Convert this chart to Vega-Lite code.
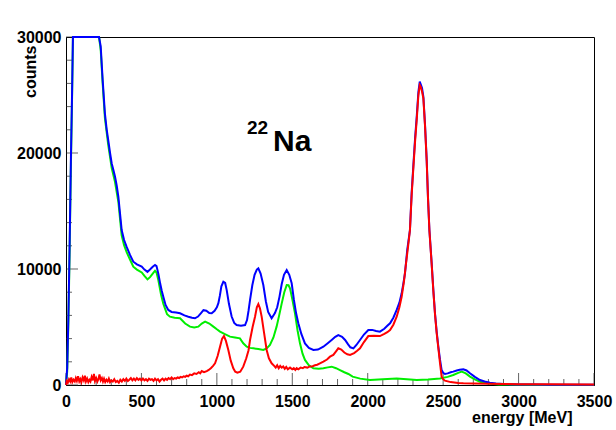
{
  "$schema": "https://vega.github.io/schema/vega-lite/v6.json",
  "autosize": {"type": "none"},
  "width": 528,
  "height": 348,
  "padding": {"left": 66, "top": 37, "right": 22, "bottom": 45},
  "background": "white",
  "config": {
    "font": "Liberation Sans",
    "view": {"stroke": "#000000", "strokeWidth": 1},
    "axis": {"grid": false, "domainColor": "#000000", "labelColor": "#000000", "titleColor": "#000000", "labelFont": "Liberation Sans", "labelFontWeight": "bold", "labelFontSize": 16, "titleFont": "Liberation Sans", "titleFontWeight": "bold", "titleFontSize": 16, "labelFlush": false, "labelOverlap": false}
  },
  "datasets": {
    "green": [
      {"e":0,"c":0},{"e":8,"c":1200},{"e":16,"c":5500},{"e":24,"c":11500},{"e":32,"c":18500},{"e":40,"c":24600},{"e":46,"c":30000},{"e":219,"c":30000},{"e":230,"c":28900},{"e":243,"c":26000},{"e":258,"c":23000},{"e":280,"c":20700},{"e":303,"c":18700},{"e":325,"c":17500},{"e":347,"c":15800},{"e":369,"c":12900},{"e":385,"c":12050},{"e":402,"c":11450},{"e":425,"c":10800},{"e":446,"c":10200},{"e":470,"c":9950},{"e":502,"c":9700},{"e":520,"c":9400},{"e":540,"c":9100},{"e":557,"c":9300},{"e":575,"c":9600},{"e":590,"c":9850},{"e":600,"c":9700},{"e":612,"c":9050},{"e":630,"c":7800},{"e":645,"c":7000},{"e":656,"c":6610},{"e":670,"c":6100},{"e":689,"c":5890},{"e":720,"c":5800},{"e":756,"c":5750},{"e":790,"c":5300},{"e":822,"c":5030},{"e":850,"c":4950},{"e":877,"c":5030},{"e":900,"c":5300},{"e":922,"c":5460},{"e":950,"c":5300},{"e":977,"c":5030},{"e":1000,"c":4800},{"e":1021,"c":4600},{"e":1050,"c":4400},{"e":1087,"c":4170},{"e":1120,"c":4100},{"e":1153,"c":4020},{"e":1175,"c":3600},{"e":1198,"c":3300},{"e":1220,"c":3200},{"e":1242,"c":3160},{"e":1275,"c":3100},{"e":1308,"c":3020},{"e":1330,"c":3150},{"e":1352,"c":3450},{"e":1375,"c":4100},{"e":1396,"c":5030},{"e":1413,"c":6000},{"e":1430,"c":7040},{"e":1447,"c":8000},{"e":1463,"c":8620},{"e":1475,"c":8600},{"e":1485,"c":8340},{"e":1500,"c":7400},{"e":1518,"c":6180},{"e":1535,"c":4700},{"e":1551,"c":3590},{"e":1568,"c":2700},{"e":1584,"c":2160},{"e":1610,"c":1700},{"e":1640,"c":1440},{"e":1675,"c":1400},{"e":1706,"c":1440},{"e":1735,"c":1520},{"e":1761,"c":1580},{"e":1790,"c":1450},{"e":1816,"c":1290},{"e":1845,"c":1100},{"e":1872,"c":950},{"e":1900,"c":720},{"e":1950,"c":550},{"e":2015,"c":430},{"e":2100,"c":500},{"e":2192,"c":570},{"e":2260,"c":500},{"e":2325,"c":430},{"e":2400,"c":480},{"e":2479,"c":570},{"e":2530,"c":700},{"e":2567,"c":860},{"e":2600,"c":1050},{"e":2623,"c":1150},{"e":2650,"c":1000},{"e":2678,"c":720},{"e":2710,"c":480},{"e":2744,"c":280},{"e":2800,"c":120},{"e":2870,"c":50},{"e":3000,"c":20},{"e":3200,"c":10},{"e":3500,"c":5}
    ],
    "blue": [
      {"e":0,"c":0},{"e":8,"c":1500},{"e":16,"c":6000},{"e":24,"c":12000},{"e":32,"c":19000},{"e":40,"c":25000},{"e":46,"c":30000},{"e":219,"c":30000},{"e":230,"c":29200},{"e":243,"c":26300},{"e":258,"c":23400},{"e":270,"c":22000},{"e":280,"c":21100},{"e":292,"c":20000},{"e":303,"c":19100},{"e":315,"c":18500},{"e":325,"c":17960},{"e":336,"c":17200},{"e":347,"c":16230},{"e":358,"c":14800},{"e":369,"c":13360},{"e":385,"c":12500},{"e":402,"c":11900},{"e":425,"c":11200},{"e":446,"c":10630},{"e":470,"c":10400},{"e":502,"c":10200},{"e":520,"c":9950},{"e":540,"c":9750},{"e":560,"c":10000},{"e":575,"c":10200},{"e":590,"c":10350},{"e":600,"c":10250},{"e":612,"c":9600},{"e":625,"c":8700},{"e":635,"c":8100},{"e":645,"c":7600},{"e":660,"c":6900},{"e":678,"c":6470},{"e":700,"c":6300},{"e":730,"c":6250},{"e":756,"c":6180},{"e":785,"c":6000},{"e":811,"c":5890},{"e":835,"c":5800},{"e":855,"c":5750},{"e":875,"c":5900},{"e":895,"c":6200},{"e":911,"c":6450},{"e":930,"c":6400},{"e":950,"c":6200},{"e":966,"c":6180},{"e":985,"c":6400},{"e":1000,"c":6700},{"e":1010,"c":7050},{"e":1020,"c":7700},{"e":1030,"c":8500},{"e":1043,"c":8900},{"e":1055,"c":8800},{"e":1065,"c":8200},{"e":1080,"c":7000},{"e":1098,"c":5900},{"e":1115,"c":5350},{"e":1131,"c":5170},{"e":1160,"c":5100},{"e":1187,"c":5170},{"e":1200,"c":5600},{"e":1210,"c":6400},{"e":1220,"c":7330},{"e":1235,"c":8600},{"e":1250,"c":9500},{"e":1265,"c":9950},{"e":1275,"c":10060},{"e":1290,"c":9600},{"e":1308,"c":8620},{"e":1325,"c":7200},{"e":1340,"c":6300},{"e":1363,"c":5750},{"e":1385,"c":6200},{"e":1400,"c":6700},{"e":1415,"c":7600},{"e":1430,"c":8700},{"e":1445,"c":9500},{"e":1463,"c":9910},{"e":1480,"c":9500},{"e":1496,"c":8770},{"e":1510,"c":7400},{"e":1525,"c":6200},{"e":1540,"c":5320},{"e":1560,"c":4400},{"e":1584,"c":3590},{"e":1610,"c":3200},{"e":1640,"c":3020},{"e":1670,"c":3050},{"e":1706,"c":3300},{"e":1735,"c":3600},{"e":1761,"c":3880},{"e":1785,"c":4150},{"e":1805,"c":4300},{"e":1830,"c":4150},{"e":1850,"c":3880},{"e":1870,"c":3500},{"e":1885,"c":3250},{"e":1905,"c":3160},{"e":1925,"c":3450},{"e":1949,"c":3880},{"e":1975,"c":4350},{"e":2004,"c":4740},{"e":2030,"c":4750},{"e":2055,"c":4650},{"e":2081,"c":4600},{"e":2110,"c":4850},{"e":2130,"c":5100},{"e":2148,"c":5320},{"e":2170,"c":5800},{"e":2192,"c":6470},{"e":2210,"c":7100},{"e":2225,"c":7900},{"e":2237,"c":8800},{"e":2247,"c":9630},{"e":2262,"c":11640},{"e":2280,"c":13360},{"e":2291,"c":16500},{"e":2302,"c":18820},{"e":2314,"c":21270},{"e":2325,"c":23130},{"e":2336,"c":25280},{"e":2345,"c":26150},{"e":2352,"c":25900},{"e":2360,"c":25600},{"e":2369,"c":24850},{"e":2380,"c":22410},{"e":2391,"c":19400},{"e":2400,"c":16000},{"e":2409,"c":13360},{"e":2424,"c":10490},{"e":2435,"c":8200},{"e":2446,"c":6180},{"e":2457,"c":4600},{"e":2468,"c":3300},{"e":2479,"c":2200},{"e":2490,"c":1290},{"e":2500,"c":1050},{"e":2512,"c":950},{"e":2530,"c":1000},{"e":2550,"c":1100},{"e":2567,"c":1150},{"e":2590,"c":1250},{"e":2610,"c":1320},{"e":2634,"c":1350},{"e":2655,"c":1250},{"e":2678,"c":1010},{"e":2710,"c":700},{"e":2744,"c":430},{"e":2775,"c":300},{"e":2810,"c":200},{"e":2850,"c":130},{"e":2900,"c":80},{"e":3000,"c":50},{"e":3100,"c":40},{"e":3200,"c":30},{"e":3300,"c":30},{"e":3400,"c":25},{"e":3500,"c":20}
    ],
    "red": [
      {"e":0,"c":0},{"e":5,"c":350},{"e":12,"c":200},{"e":20,"c":500},{"e":28,"c":300},{"e":35,"c":650},{"e":42,"c":250},{"e":50,"c":450},{"e":58,"c":300},{"e":65,"c":600},{"e":72,"c":350},{"e":80,"c":750},{"e":88,"c":300},{"e":95,"c":500},{"e":102,"c":250},{"e":110,"c":650},{"e":118,"c":400},{"e":125,"c":800},{"e":132,"c":300},{"e":140,"c":550},{"e":148,"c":250},{"e":155,"c":450},{"e":162,"c":300},{"e":170,"c":700},{"e":178,"c":400},{"e":185,"c":950},{"e":192,"c":350},{"e":200,"c":600},{"e":208,"c":300},{"e":215,"c":500},{"e":222,"c":900},{"e":230,"c":400},{"e":238,"c":600},{"e":245,"c":300},{"e":252,"c":550},{"e":260,"c":250},{"e":268,"c":450},{"e":276,"c":300},{"e":284,"c":550},{"e":292,"c":250},{"e":300,"c":400},{"e":310,"c":300},{"e":320,"c":500},{"e":330,"c":250},{"e":340,"c":350},{"e":350,"c":200},{"e":360,"c":450},{"e":370,"c":300},{"e":380,"c":500},{"e":390,"c":350},{"e":400,"c":550},{"e":410,"c":350},{"e":420,"c":450},{"e":430,"c":600},{"e":440,"c":400},{"e":450,"c":550},{"e":460,"c":400},{"e":470,"c":600},{"e":480,"c":450},{"e":490,"c":550},{"e":500,"c":400},{"e":510,"c":550},{"e":520,"c":400},{"e":530,"c":500},{"e":540,"c":350},{"e":550,"c":550},{"e":560,"c":450},{"e":570,"c":500},{"e":580,"c":350},{"e":590,"c":550},{"e":600,"c":400},{"e":610,"c":500},{"e":620,"c":300},{"e":630,"c":450},{"e":640,"c":550},{"e":650,"c":400},{"e":660,"c":550},{"e":670,"c":450},{"e":680,"c":600},{"e":690,"c":500},{"e":700,"c":650},{"e":710,"c":500},{"e":720,"c":600},{"e":730,"c":550},{"e":740,"c":650},{"e":750,"c":600},{"e":760,"c":700},{"e":770,"c":650},{"e":780,"c":750},{"e":790,"c":700},{"e":800,"c":800},{"e":810,"c":750},{"e":822,"c":900},{"e":835,"c":850},{"e":850,"c":1000},{"e":865,"c":950},{"e":880,"c":1100},{"e":890,"c":1000},{"e":900,"c":1200},{"e":915,"c":1100},{"e":933,"c":1200},{"e":946,"c":1300},{"e":960,"c":1450},{"e":975,"c":1650},{"e":988,"c":1870},{"e":1005,"c":2500},{"e":1021,"c":3300},{"e":1035,"c":4000},{"e":1047,"c":4220},{"e":1060,"c":3800},{"e":1076,"c":3020},{"e":1092,"c":2100},{"e":1109,"c":1440},{"e":1122,"c":1150},{"e":1136,"c":1060},{"e":1155,"c":1150},{"e":1175,"c":1580},{"e":1195,"c":2300},{"e":1210,"c":3000},{"e":1220,"c":3880},{"e":1237,"c":5000},{"e":1253,"c":5890},{"e":1265,"c":6700},{"e":1275,"c":6980},{"e":1286,"c":6600},{"e":1297,"c":5890},{"e":1313,"c":4500},{"e":1330,"c":3020},{"e":1345,"c":2300},{"e":1363,"c":1870},{"e":1380,"c":1650},{"e":1390,"c":1500},{"e":1400,"c":1700},{"e":1410,"c":1450},{"e":1420,"c":1650},{"e":1430,"c":1500},{"e":1440,"c":1600},{"e":1450,"c":1400},{"e":1460,"c":1550},{"e":1470,"c":1350},{"e":1485,"c":1500},{"e":1500,"c":1350},{"e":1510,"c":1450},{"e":1520,"c":1300},{"e":1529,"c":1450},{"e":1540,"c":1350},{"e":1555,"c":1500},{"e":1570,"c":1450},{"e":1580,"c":1550},{"e":1600,"c":1500},{"e":1617,"c":1600},{"e":1635,"c":1620},{"e":1650,"c":1700},{"e":1665,"c":1750},{"e":1680,"c":1850},{"e":1706,"c":2010},{"e":1730,"c":2200},{"e":1750,"c":2440},{"e":1772,"c":2590},{"e":1790,"c":2900},{"e":1805,"c":3160},{"e":1825,"c":3050},{"e":1845,"c":2800},{"e":1865,"c":2650},{"e":1883,"c":2590},{"e":1910,"c":2750},{"e":1930,"c":2950},{"e":1949,"c":3160},{"e":1975,"c":3700},{"e":2004,"c":4220},{"e":2040,"c":4250},{"e":2081,"c":4220},{"e":2110,"c":4400},{"e":2130,"c":4550},{"e":2148,"c":4740},{"e":2170,"c":5200},{"e":2192,"c":5890},{"e":2210,"c":6700},{"e":2225,"c":7610},{"e":2240,"c":8900},{"e":2254,"c":10490},{"e":2268,"c":12000},{"e":2280,"c":13360},{"e":2291,"c":16300},{"e":2302,"c":18600},{"e":2314,"c":21000},{"e":2325,"c":22900},{"e":2336,"c":25000},{"e":2345,"c":25860},{"e":2352,"c":25700},{"e":2360,"c":25300},{"e":2369,"c":24700},{"e":2380,"c":22300},{"e":2391,"c":19300},{"e":2400,"c":16000},{"e":2409,"c":13300},{"e":2424,"c":10400},{"e":2435,"c":8100},{"e":2446,"c":6100},{"e":2457,"c":4500},{"e":2468,"c":3200},{"e":2479,"c":1900},{"e":2490,"c":720},{"e":2500,"c":500},{"e":2512,"c":370},{"e":2550,"c":250},{"e":2600,"c":180},{"e":2634,"c":150},{"e":2700,"c":120},{"e":2800,"c":100},{"e":2900,"c":80},{"e":3000,"c":70},{"e":3200,"c":60},{"e":3500,"c":50}
    ],
    "annot": [{"iso": "22", "el": "Na", "ex": 1200, "cx": 21640, "en": 1372, "cn": 20200}],
    "xmajor": [{"v":0},{"v":500},{"v":1000},{"v":1500},{"v":2000},{"v":2500},{"v":3000},{"v":3500}],
    "xminor": [{"v":100},{"v":200},{"v":300},{"v":400},{"v":600},{"v":700},{"v":800},{"v":900},{"v":1100},{"v":1200},{"v":1300},{"v":1400},{"v":1600},{"v":1700},{"v":1800},{"v":1900},{"v":2100},{"v":2200},{"v":2300},{"v":2400},{"v":2600},{"v":2700},{"v":2800},{"v":2900},{"v":3100},{"v":3200},{"v":3300},{"v":3400}],
    "ymajor": [{"v":0},{"v":10000},{"v":20000},{"v":30000}],
    "yminor": [{"v":2000},{"v":4000},{"v":6000},{"v":8000},{"v":12000},{"v":14000},{"v":16000},{"v":18000},{"v":22000},{"v":24000},{"v":26000},{"v":28000}]
  },
  "resolve": {"axis": {"x": "independent", "y": "independent"}},
  "layer": [
    {"data": {"name": "xmajor"}, "mark": {"type": "tick", "orient": "vertical", "size": 12, "thickness": 1, "color": "#222222"},
      "encoding": {"x": {"field": "v", "type": "quantitative", "scale": {"domain": [0, 3500], "nice": false, "zero": false}, "axis": null}, "y": {"datum": 517, "type": "quantitative", "scale": {"domain": [0, 30000], "nice": false}, "axis": null}}},
    {"data": {"name": "xminor"}, "mark": {"type": "tick", "orient": "vertical", "size": 6, "thickness": 1, "color": "#222222"},
      "encoding": {"x": {"field": "v", "type": "quantitative", "axis": null}, "y": {"datum": 258, "type": "quantitative", "axis": null}}},
    {"data": {"name": "ymajor"}, "mark": {"type": "tick", "orient": "horizontal", "size": 12, "thickness": 1, "color": "#222222"},
      "encoding": {"y": {"field": "v", "type": "quantitative", "axis": null}, "x": {"datum": 40, "type": "quantitative", "axis": null}}},
    {"data": {"name": "yminor"}, "mark": {"type": "tick", "orient": "horizontal", "size": 6, "thickness": 1, "color": "#222222"},
      "encoding": {"y": {"field": "v", "type": "quantitative", "axis": null}, "x": {"datum": 20, "type": "quantitative", "axis": null}}},
    {"data": {"name": "green"}, "mark": {"type": "line", "color": "#00ee00", "strokeWidth": 2},
      "encoding": {
        "x": {"field": "e", "type": "quantitative",
          "axis": {
            "orient": "bottom",
            "title": "energy [MeV]",
            "values": [0,500,1000,1500,2000,2500,3000,3500],
            "format": "d",
            "ticks": false,
            "labelPadding": 8,
            "labelBaseline": "top",
            "titleAnchor": "end",
            "titleAlign": "right",
            "titleBaseline": "alphabetic",
            "titleX": 506,
            "titleY": 37
          }
        },
        "y": {"field": "c", "type": "quantitative",
          "axis": {
            "orient": "left",
            "title": "counts",
            "values": [0,10000,20000,30000],
            "format": "d",
            "ticks": false,
            "labelPadding": 5,
            "labelBaseline": "middle",
            "titleAnchor": "end",
            "titleAngle": -90,
            "titleAlign": "right",
            "titleBaseline": "alphabetic",
            "titleX": -31,
            "titleY": 8
          }
        }
      }
    },
    {"data": {"name": "blue"}, "mark": {"type": "line", "color": "#0000ff", "strokeWidth": 2},
      "encoding": {
        "x": {"field": "e", "type": "quantitative", "axis": null},
        "y": {"field": "c", "type": "quantitative", "axis": null}
      }
    },
    {"data": {"name": "red"}, "mark": {"type": "line", "color": "#ff0000", "strokeWidth": 2},
      "encoding": {
        "x": {"field": "e", "type": "quantitative", "axis": null},
        "y": {"field": "c", "type": "quantitative", "axis": null}
      }
    },
    {"data": {"name": "annot"}, "mark": {"type": "text", "align": "left", "baseline": "alphabetic", "fontSize": 19, "fontWeight": "bold", "font": "Liberation Sans", "color": "#000000"},
      "encoding": {"text": {"field": "iso"}, "x": {"field": "ex", "type": "quantitative", "axis": null}, "y": {"field": "cx", "type": "quantitative", "axis": null}}},
    {"data": {"name": "annot"}, "mark": {"type": "text", "align": "left", "baseline": "alphabetic", "fontSize": 30, "fontWeight": "bold", "font": "Liberation Sans", "color": "#000000"},
      "encoding": {"text": {"field": "el"}, "x": {"field": "en", "type": "quantitative", "axis": null}, "y": {"field": "cn", "type": "quantitative", "axis": null}}}
  ]
}
